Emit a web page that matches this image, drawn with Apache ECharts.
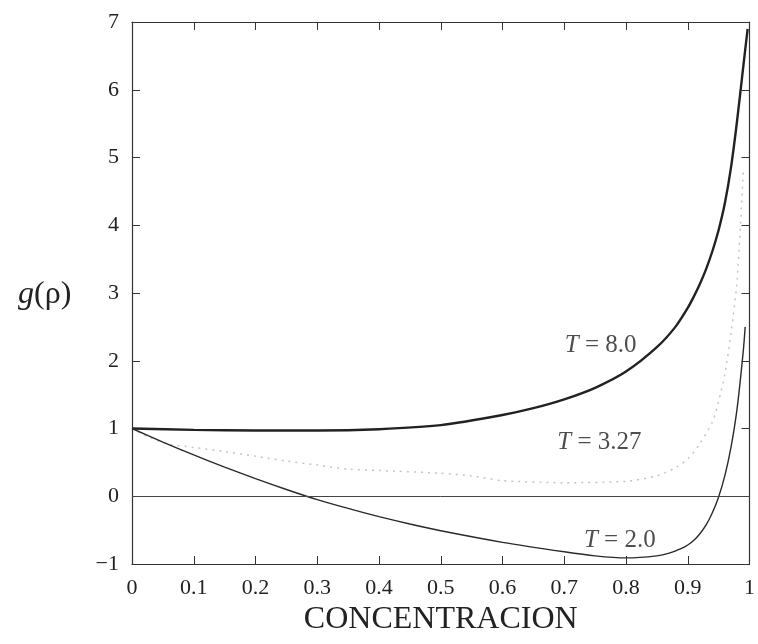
<!DOCTYPE html>
<html><head><meta charset="utf-8">
<script src="https://cdn.jsdelivr.net/npm/echarts@6/dist/echarts.min.js"></script>
<style>html,body{margin:0;padding:0;background:#fff}#c{width:758px;height:644px}</style>
</head><body><div id="c"></div>
<script>
// T = 8.0
const rho8 = [0, 0.1, 0.2, 0.3, 0.4, 0.5, 0.6, 0.65, 0.7, 0.75, 0.8, 0.85, 0.88, 0.9, 0.91, 0.92, 0.93, 0.94, 0.95, 0.96, 0.97, 0.98, 0.99, 0.997];
const g8   = [1.0, 0.98, 0.97, 0.97, 0.99, 1.05, 1.2, 1.3, 1.43, 1.6, 1.84, 2.2, 2.5, 2.78, 2.95, 3.14, 3.36, 3.62, 3.93, 4.32, 4.85, 5.55, 6.35, 6.9];
// T = 3.27 (dotted)
const rho327 = [0, 0.03, 0.06, 0.1, 0.15, 0.2, 0.25, 0.3, 0.35, 0.4, 0.5, 0.55, 0.6, 0.7, 0.8, 0.85, 0.88, 0.9, 0.92, 0.94, 0.95, 0.96, 0.97, 0.98, 0.99];
const g327   = [1.0, 0.86, 0.77, 0.72, 0.66, 0.59, 0.52, 0.46, 0.4, 0.38, 0.34, 0.3, 0.23, 0.2, 0.22, 0.3, 0.42, 0.55, 0.78, 1.1, 1.4, 1.8, 2.4, 3.2, 4.8];
// T = 2.0
const rho2 = [0, 0.05, 0.1, 0.15, 0.2, 0.25, 0.3, 0.35, 0.4, 0.45, 0.5, 0.6, 0.7, 0.75, 0.8, 0.85, 0.87, 0.89, 0.9, 0.91, 0.92, 0.93, 0.94, 0.95, 0.96, 0.97, 0.98, 0.99, 0.993];
const g2   = [1.0, 0.8, 0.61, 0.43, 0.26, 0.1, -0.05, -0.18, -0.3, -0.41, -0.51, -0.68, -0.82, -0.88, -0.91, -0.88, -0.84, -0.77, -0.72, -0.65, -0.55, -0.42, -0.24, -0.01, 0.3, 0.72, 1.3, 2.15, 2.5];
// labels
const curveLabels = ['8.0', '3.27', '2.0'];
const labelPos = [[0.759, 2.23], [0.757, 0.8], [0.79, -0.65]];
const xTicks = [0, 0.1, 0.2, 0.3, 0.4, 0.5, 0.6, 0.7, 0.8, 0.9, 1];
const yTicks = [-1, 0, 1, 2, 3, 4, 5, 6, 7];

const zip = (a, b) => a.map((v, i) => [v, b[i]]);
const font = 'Liberation Serif';
const axisCol = '#333';

const chart = echarts.init(document.getElementById('c'));
const xBase = {
  type: 'value', min: xTicks[0], max: xTicks[xTicks.length - 1], interval: 0.1,
  axisLine: {show: true, onZero: false, lineStyle: {color: axisCol, width: 1.2}},
  axisTick: {show: true, inside: true, length: 8, lineStyle: {color: axisCol}},
  splitLine: {show: false}
};
const yBase = {
  type: 'value', min: yTicks[0], max: yTicks[yTicks.length - 1], interval: 1,
  axisLine: {show: true, onZero: false, lineStyle: {color: axisCol, width: 1.2}},
  axisTick: {show: true, inside: true, length: 8, lineStyle: {color: axisCol}},
  splitLine: {show: false}
};
chart.setOption({
  animation: false,
  grid: {left: 132, right: 4, top: 22, bottom: 80},
  xAxis: [
    Object.assign({}, xBase, {
      position: 'bottom',
      axisLabel: {color: '#222', fontFamily: font, fontSize: 22, margin: 13},
      name: 'CONCENTRACION', nameLocation: 'middle', nameGap: 35,
      nameTextStyle: {color: '#222', fontFamily: font, fontSize: 32}
    }),
    Object.assign({}, xBase, {position: 'top', axisLabel: {show: false}})
  ],
  yAxis: [
    Object.assign({}, yBase, {
      position: 'left',
      axisLabel: {color: '#222', fontFamily: font, fontSize: 22, margin: 13,
        formatter: v => String(v).replace('-', '\u2212')}
    }),
    Object.assign({}, yBase, {position: 'right', axisLabel: {show: false}})
  ],
  graphic: [{
    type: 'text', left: 18, top: 279,
    style: {
      text: '{i|g}(ρ)', fill: '#222',
      font: '32px ' + font,
      rich: {i: {fontFamily: font, fontSize: 32, fontStyle: 'italic', fill: '#222'}}
    }
  }],
  series: [
    {
      type: 'line', data: zip(rho8, g8), smooth: 0.25, showSymbol: false,
      lineStyle: {color: '#222', width: 2.4},
      markLine: {
        silent: true, symbol: 'none', label: {show: false},
        lineStyle: {color: '#444', width: 1, type: 'solid'},
        data: [{yAxis: 0}]
      },
      z: 3
    },
    {
      type: 'line', data: zip(rho327, g327), smooth: 0.25, showSymbol: false,
      lineStyle: {color: '#c4c4c4', width: 1.5, type: [2, 5]}, z: 2
    },
    {
      type: 'line', data: zip(rho2, g2), smooth: 0.25, showSymbol: false,
      lineStyle: {color: '#2a2a2a', width: 1.4}, z: 3
    },
    {
      type: 'scatter', symbolSize: 0,
      data: labelPos.map((p, i) => ({value: p, name: curveLabels[i]})),
      label: {
        show: true, position: 'inside', formatter: p => '{i|T} = ' + p.data.name,
        color: '#222', fontFamily: font, fontSize: 25,
        rich: {i: {fontFamily: font, fontSize: 25, fontStyle: 'italic', color: '#222'}}
      },
      silent: true, z: 5
    }
  ]
});
</script></body></html>
